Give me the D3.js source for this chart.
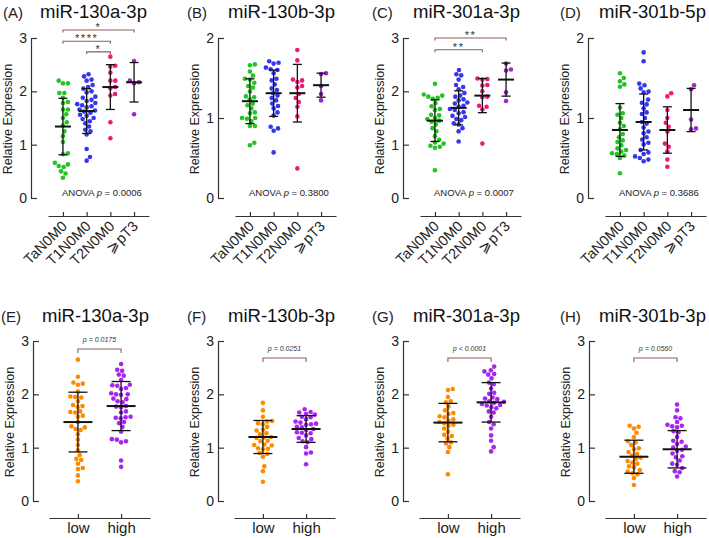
<!DOCTYPE html>
<html lang="en">
<head>
<meta charset="UTF-8">
<title>miR expression by stage</title>
<script src="https://cdn.jsdelivr.net/npm/d3@7"></script>
<style>
  body { margin: 0; background: #fff; }
  svg { display: block; font-family: "Liberation Sans", Arial, sans-serif; }
  .axis path, .axis line { stroke: #333; stroke-width: 1.2; }
  .axis text { fill: #222; }
</style>
</head>
<body>
<div id="chart"></div>
<script>
// categories
const stageGroups = ["TaN0M0", "T1N0M0", "T2N0M0", "⩾pT3"];
const levelGroups = ["low", "high"];
const stageColors = ["#22c322", "#3636ee", "#ec1a78", "#9c28c8"];
const levelColors = ["#ff8a00", "#a626f0"];

// (A) miR-130a-3p by stage
const mir130aStage = [
  [2.2, 2.15, 2.15, 1.97, 1.97, 1.88, 1.8, 1.78, 1.66, 1.66, 1.57, 1.5, 1.42, 1.36, 1.25, 1.16, 1.05, 0.84, 0.82, 0.66, 0.63, 0.6, 0.58, 0.5, 0.46, 0.38],
  [2.32, 2.28, 2.22, 2.2, 2.12, 2.08, 2.05, 2.0, 1.98, 1.9, 1.88, 1.84, 1.82, 1.78, 1.76, 1.74, 1.72, 1.7, 1.66, 1.64, 1.62, 1.6, 1.56, 1.54, 1.5, 1.48, 1.44, 1.4, 1.34, 1.28, 1.25, 1.19, 0.92, 0.77, 0.7],
  [2.65, 2.48, 2.46, 2.35, 2.2, 2.2, 2.08, 2.06, 1.95, 1.92, 1.42, 1.12],
  [2.57, 2.2, 2.17, 2.15, 1.57]
];
const mir130aStageMean = [1.34, 1.63, 2.08, 2.17];
const mir130aStageSD = [0.53, 0.42, 0.42, 0.37];

// (B) miR-130b-3p by stage
const mir130bStage = [
  [1.67, 1.66, 1.58, 1.53, 1.49, 1.48, 1.44, 1.4, 1.38, 1.33, 1.27, 1.26, 1.23, 1.18, 1.16, 1.12, 1.07, 1.06, 1.0, 1.0, 0.99, 0.96, 0.9, 0.9, 0.69, 0.66],
  [1.71, 1.69, 1.68, 1.63, 1.61, 1.6, 1.56, 1.49, 1.47, 1.42, 1.37, 1.35, 1.31, 1.28, 1.25, 1.22, 1.18, 1.15, 1.12, 1.07, 1.03, 0.89, 0.87, 0.84, 0.57],
  [1.85, 1.72, 1.48, 1.47, 1.45, 1.4, 1.38, 1.3, 1.25, 1.2, 1.14, 1.02, 0.37],
  [1.56, 1.55, 1.4, 1.3, 1.22]
];
const mir130bStageMean = [1.21, 1.31, 1.31, 1.41];
const mir130bStageSD = [0.28, 0.29, 0.36, 0.15];

// (C) miR-301a-3p by stage
const mir301aStage = [
  [2.14, 1.94, 1.92, 1.9, 1.88, 1.86, 1.78, 1.72, 1.67, 1.65, 1.56, 1.55, 1.5, 1.48, 1.45, 1.43, 1.38, 1.31, 1.25, 1.16, 1.09, 1.04, 1.02, 0.98, 0.96, 0.94, 0.52],
  [2.4, 2.32, 2.3, 2.22, 2.12, 2.08, 2.04, 1.97, 1.92, 1.9, 1.85, 1.83, 1.79, 1.77, 1.73, 1.71, 1.67, 1.65, 1.61, 1.59, 1.54, 1.52, 1.48, 1.46, 1.4, 1.38, 1.31, 1.25, 1.06],
  [2.24, 2.23, 2.22, 2.12, 2.11, 2.0, 1.9, 1.89, 1.73, 1.71, 1.66, 1.02],
  [2.52, 2.41, 2.39, 1.98, 1.82]
];
const mir301aStageMean = [1.45, 1.69, 1.92, 2.22];
const mir301aStageSD = [0.39, 0.32, 0.32, 0.31];

// (D) miR-301b-5p by stage
const mir301bStage = [
  [1.56, 1.5, 1.46, 1.42, 1.39, 1.13, 1.06, 1.04, 1.0, 0.94, 0.9, 0.86, 0.8, 0.76, 0.72, 0.7, 0.66, 0.62, 0.6, 0.58, 0.56, 0.55, 0.53, 0.5, 0.31],
  [1.82, 1.71, 1.43, 1.41, 1.37, 1.33, 1.32, 1.23, 1.19, 1.17, 1.12, 1.07, 1.05, 1.0, 0.95, 0.93, 0.88, 0.83, 0.81, 0.76, 0.73, 0.69, 0.67, 0.6, 0.57, 0.55, 0.52, 0.5, 0.48, 0.46],
  [1.31, 1.27, 1.1, 1.0, 0.94, 0.89, 0.83, 0.68, 0.64, 0.58, 0.48, 0.39],
  [1.41, 1.36, 0.98, 0.87, 0.86]
];
const mir301bStageMean = [0.85, 0.95, 0.85, 1.1];
const mir301bStageSD = [0.33, 0.35, 0.29, 0.27];

// (E)-(H) low vs high
const mir130aLevel = [
  [2.65, 2.33, 2.22, 2.2, 2.18, 2.05, 1.96, 1.95, 1.94, 1.87, 1.8, 1.78, 1.76, 1.68, 1.67, 1.66, 1.6, 1.58, 1.48, 1.4, 1.38, 1.35, 1.33, 1.25, 1.15, 1.05, 0.95, 0.86, 0.79, 0.77, 0.7, 0.62, 0.6, 0.48, 0.37],
  [2.57, 2.46, 2.44, 2.37, 2.35, 2.27, 2.18, 2.17, 2.16, 2.12, 2.1, 2.02, 2.0, 2.0, 1.99, 1.92, 1.91, 1.87, 1.85, 1.78, 1.77, 1.76, 1.68, 1.66, 1.58, 1.57, 1.56, 1.55, 1.48, 1.46, 1.39, 1.3, 1.16, 1.15, 1.12, 1.1, 0.76, 0.64]
];
const mir130aLevelMean = [1.48, 1.78];
const mir130aLevelSD = [0.56, 0.46];

const mir130bLevel = [
  [1.84, 1.7, 1.58, 1.5, 1.49, 1.46, 1.44, 1.39, 1.34, 1.32, 1.27, 1.25, 1.2, 1.19, 1.18, 1.13, 1.12, 1.06, 1.05, 1.04, 0.99, 0.98, 0.97, 0.9, 0.88, 0.83, 0.65, 0.56, 0.36],
  [1.72, 1.67, 1.66, 1.63, 1.62, 1.58, 1.57, 1.53, 1.49, 1.47, 1.45, 1.44, 1.43, 1.39, 1.38, 1.35, 1.33, 1.29, 1.28, 1.27, 1.23, 1.18, 1.16, 1.12, 1.1, 1.01, 0.91, 0.89, 0.69]
];
const mir130bLevelMean = [1.2, 1.35];
const mir130bLevelSD = [0.31, 0.25];

const mir301aLevel = [
  [2.1, 2.08, 1.95, 1.87, 1.85, 1.77, 1.7, 1.65, 1.63, 1.59, 1.57, 1.53, 1.51, 1.48, 1.46, 1.43, 1.41, 1.36, 1.3, 1.24, 1.22, 1.17, 1.1, 1.08, 1.01, 0.92, 0.5],
  [2.52, 2.45, 2.43, 2.38, 2.37, 2.3, 2.22, 2.19, 2.11, 2.03, 2.01, 1.94, 1.92, 1.91, 1.87, 1.86, 1.84, 1.82, 1.8, 1.79, 1.76, 1.74, 1.68, 1.66, 1.58, 1.48, 1.44, 1.36, 1.23, 1.13, 1.01, 0.93]
];
const mir301aLevelMean = [1.47, 1.85];
const mir301aLevelSD = [0.36, 0.37];

const mir301bLevel = [
  [1.41, 1.39, 1.36, 1.28, 1.2, 1.12, 1.1, 1.05, 0.99, 0.97, 0.92, 0.88, 0.85, 0.81, 0.79, 0.75, 0.72, 0.7, 0.65, 0.63, 0.58, 0.55, 0.52, 0.5, 0.43, 0.3],
  [1.81, 1.7, 1.57, 1.55, 1.48, 1.43, 1.41, 1.4, 1.38, 1.31, 1.29, 1.2, 1.13, 1.11, 1.07, 1.02, 1.0, 0.96, 0.94, 0.89, 0.84, 0.82, 0.76, 0.7, 0.68, 0.62, 0.56, 0.54, 0.46]
];
const mir301bLevelMean = [0.83, 0.97];
const mir301bLevelSD = [0.31, 0.35];

// comparisons: [from group, to group, level in data units, label]
const mir130aStageSig = [[0, 3, 3.15, "*"], [0, 2, 2.94, "****"], [1, 2, 2.74, "*"]];
const mir301aStageSig = [[0, 3, 3.0, "**"], [0, 2, 2.78, "**"]];
const levelSig = [["p = 0.0175", 2.85], ["p = 0.0251", 2.68], ["p < 0.0001", 2.68], ["p = 0.0560", 2.68]];
const anovaP = ["0.0006", "0.3800", "0.0007", "0.3686"];

const titles = ["miR-130a-3p", "miR-130b-3p", "miR-301a-3p", "miR-301b-5p",
                "miR-130a-3p", "miR-130b-3p", "miR-301a-3p", "miR-301b-3p"];
const letters = ["(A)", "(B)", "(C)", "(D)", "(E)", "(F)", "(G)", "(H)"];

const panels = [
  { data: mir130aStage, mean: mir130aStageMean, sd: mir130aStageSD, yMax: 3, sig: mir130aStageSig },
  { data: mir130bStage, mean: mir130bStageMean, sd: mir130bStageSD, yMax: 2, sig: [] },
  { data: mir301aStage, mean: mir301aStageMean, sd: mir301aStageSD, yMax: 3, sig: mir301aStageSig },
  { data: mir301bStage, mean: mir301bStageMean, sd: mir301bStageSD, yMax: 2, sig: [] },
  { data: mir130aLevel, mean: mir130aLevelMean, sd: mir130aLevelSD, yMax: 3 },
  { data: mir130bLevel, mean: mir130bLevelMean, sd: mir130bLevelSD, yMax: 3 },
  { data: mir301aLevel, mean: mir301aLevelMean, sd: mir301aLevelSD, yMax: 3 },
  { data: mir301bLevel, mean: mir301bLevelMean, sd: mir301bLevelSD, yMax: 3 }
];

const W = 709, H = 538;
const svg = d3.select("#chart").append("svg").attr("width", W).attr("height", H);

// layout
const axisX = [[31, 218, 403, 588], [33, 218, 403, 589]];
const titleX = [[40, 228, 413, 599], [42, 228, 413, 599]];
const letterX = [[3, 187, 372, 560], [1, 187, 372, 560]];
const plotTop = [38, 341], plotBottom = [198, 501], xAxisY = [216, 518], titleY = [18, 322];
const dotR = 2.3;

// simple beeswarm: each dot as near to the centre as it can go
function swarm(ys, diam) {
  const order = d3.range(ys.length).sort((i, j) => ys[j] - ys[i]);
  const placed = [], xs = new Array(ys.length);
  for (const i of order) {
    const yi = ys[i];
    const near = placed.filter(p => Math.abs(p.y - yi) < diam);
    const cands = [0];
    near.forEach(p => {
      const dx = Math.sqrt(diam * diam - (p.y - yi) ** 2);
      cands.push(p.x + dx, p.x - dx);
    });
    cands.sort((a, b) => Math.abs(a) - Math.abs(b));
    const x = cands.find(c => near.every(p => (p.x - c) ** 2 + (p.y - yi) ** 2 >= diam * diam - 0.01));
    xs[i] = x;
    placed.push({ x, y: yi });
  }
  return xs;
}

panels.forEach((p, k) => {
  const row = k < 4 ? 0 : 1, col = k % 4;
  const ax = axisX[row][col];
  const cats = row === 0 ? stageGroups : levelGroups;
  const colors = row === 0 ? stageColors : levelColors;
  const g = svg.append("g");

  const y = d3.scaleLinear().domain([0, p.yMax]).range([plotBottom[row], plotTop[row]]);
  const x = row === 0
    ? d3.scalePoint().domain(cats).range([ax + 17, ax + 118]).padding(0.63)
    : d3.scalePoint().domain(cats).range([ax + 16, ax + 117]).padding(0.67);

  // titles
  g.append("text").attr("x", letterX[row][col]).attr("y", titleY[row])
    .attr("font-size", 15).attr("fill", "#222").text(letters[k]);
  g.append("text").attr("x", titleX[row][col]).attr("y", titleY[row])
    .attr("font-size", 18.5).attr("fill", "#111").text(titles[k]);

  // y axis
  g.append("g").attr("class", "axis").attr("transform", `translate(${ax},0)`)
    .call(d3.axisLeft(y).tickValues(d3.range(0, p.yMax + 1)).tickFormat(d3.format("d"))
      .tickSize(-6).tickSizeOuter(0).tickPadding(4))
    .call(s => s.selectAll("text").attr("font-size", 14));

  g.append("text")
    .attr("transform", `translate(${ax - 19},${(plotTop[row] + plotBottom[row]) / 2 + 1}) rotate(-90)`)
    .attr("text-anchor", "middle").attr("font-size", 12.5).attr("fill", "#222")
    .text("Relative Expression");

  // x axis (separate baseline)
  const xa = g.append("g").attr("class", "axis").attr("transform", `translate(0,${xAxisY[row]})`)
    .call(d3.axisBottom(x).tickSize(-4).tickSizeOuter(0).tickPadding(4));
  if (row === 0) {
    xa.selectAll("text").remove();
    cats.forEach(c => {
      g.append("text")
        .attr("transform", `translate(${x(c) + 5},${xAxisY[row] + 11}) rotate(-45)`)
        .attr("text-anchor", "end").attr("font-size", 14.5).attr("fill", "#222").text(c);
    });
  } else {
    xa.selectAll("text").attr("font-size", 15);
  }

  // dots
  const meanHalf = row === 0 ? 8 : 14.5, capHalf = row === 0 ? 4.5 : 9.5;
  p.data.forEach((vals, gi) => {
    const ys = vals.map(v => y(v));
    const xs = swarm(ys, dotR * 2 + 0.4);
    const cx = x(cats[gi]);
    g.append("g").selectAll("circle").data(vals).join("circle")
      .attr("cx", (d, i) => cx + xs[i]).attr("cy", d => y(d))
      .attr("r", dotR).attr("fill", colors[gi]);

    // mean and SD
    const m = p.mean[gi], s = p.sd[gi];
    const eg = g.append("g").attr("stroke", "#111");
    eg.append("line").attr("x1", cx).attr("x2", cx).attr("y1", y(m + s)).attr("y2", y(m - s)).attr("stroke-width", 1.3);
    [m + s, m - s].forEach(v => eg.append("line").attr("x1", cx - capHalf).attr("x2", cx + capHalf)
      .attr("y1", y(v)).attr("y2", y(v)).attr("stroke-width", 1.3));
    eg.append("line").attr("x1", cx - meanHalf).attr("x2", cx + meanHalf)
      .attr("y1", y(m)).attr("y2", y(m)).attr("stroke-width", 2);
  });

  const bracket = (x1, x2, yy, drop) => g.append("path")
    .attr("d", `M${x1},${yy + drop}V${yy}H${x2}V${yy + drop}`)
    .attr("fill", "none").attr("stroke", "#8a605c").attr("stroke-width", 1.1);

  if (row === 0) {
    p.sig.forEach(([a, b, lvl, lab]) => {
      const yy = y(lvl);
      bracket(x(cats[a]), x(cats[b]), yy, 2.5);
      g.append("text").attr("x", (x(cats[a]) + x(cats[b])) / 2).attr("y", yy + 1)
        .attr("text-anchor", "middle").attr("font-size", 11).attr("letter-spacing", 1.5)
        .attr("fill", "#333").text(lab);
    });
    const t = g.append("text").attr("x", ax + 31).attr("y", plotBottom[row] - 2)
      .attr("font-size", 9.5).attr("fill", "#222");
    t.append("tspan").text("ANOVA ");
    t.append("tspan").attr("font-style", "italic").text("p");
    t.append("tspan").text(" = " + anovaP[col]);
  } else {
    const [lab, lvl] = levelSig[col];
    const yy = y(lvl);
    bracket(x(cats[0]), x(cats[1]), yy, 4);
    g.append("text").attr("x", (x(cats[0]) + x(cats[1])) / 2).attr("y", yy - 7)
      .attr("text-anchor", "middle").attr("font-size", 7).attr("font-style", "italic")
      .attr("fill", "#333").text(lab);
  }
});
</script>
</body>
</html>
